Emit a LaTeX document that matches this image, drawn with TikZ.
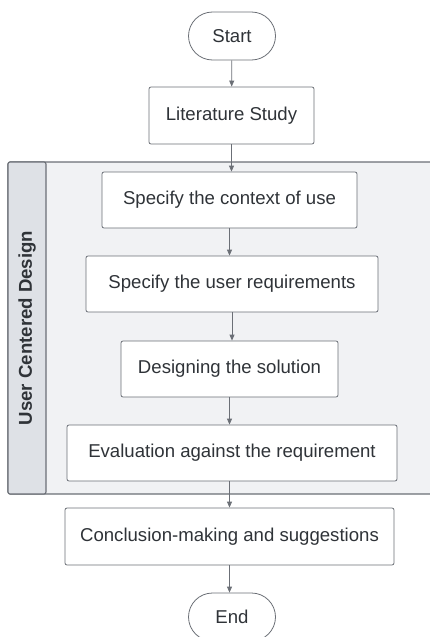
\documentclass[tikz,border=0pt]{standalone}
\usepackage{fontspec}
\setmainfont{Liberation Sans}
\usetikzlibrary{arrows.meta}
\definecolor{lanefill}{HTML}{F1F2F4}
\definecolor{bandfill}{HTML}{DEE1E6}
\definecolor{edgegray}{HTML}{6B6F76}
\definecolor{txtgray}{HTML}{2F3338}
\tikzset{
	stepbox/.style={draw=edgegray, line width=0.8pt, fill=white, rounded corners=2pt, inner sep=0pt, align=center, text=txtgray},
	termbox/.style={stepbox, rounded corners=24pt, minimum width=87pt, minimum height=48pt},
	flow/.style={draw=edgegray, line width=0.8pt, -{Triangle[width=5pt,length=6pt]}}
}
\begin{document}
\begin{tikzpicture}[x=1pt, y=-1pt, line join=round, font=\fontsize{18.6}{22}\selectfont]
	\useasboundingbox (0,0) rectangle (429,637);
	% swimlane
	\draw[draw=edgegray, fill=lanefill, line width=1.1pt, rounded corners=2pt] (8,162) rectangle (436,494);
	\draw[draw=edgegray, fill=bandfill, line width=1.1pt, rounded corners=2pt] (8,162) -- (46,162) -- (46,494) -- (8,494) -- cycle;
	\node[rotate=90, text=txtgray, font=\fontsize{18.6}{22}\selectfont\bfseries] (lane) at (27,328) {User Centered Design};
	% steps
	\node[termbox] (start) at (232,36) {Start};
	\node[stepbox, minimum width=165pt, minimum height=57pt] (lit) at (231.5,115.5) {Literature Study};
	\node[stepbox, minimum width=255pt, minimum height=56pt] (ctx) at (229.5,200) {Specify the context of use};
	\node[stepbox, minimum width=292pt, minimum height=56pt] (req) at (232,284) {Specify the user requirements};
	\node[stepbox, minimum width=217pt, minimum height=56pt] (des) at (229.5,369) {Designing the solution};
	\node[stepbox, minimum width=330pt, minimum height=56pt] (eval) at (232,453) {Evaluation against the requirement};
	\node[stepbox, minimum width=329pt, minimum height=57pt] (concl) at (229.5,536.5) {Conclusion-making and suggestions};
	\node[termbox] (end) at (232,617) {End};
	% arrows
	\draw[flow] (start) -- (lit);
	\draw[flow] (lit.south) -- (lit.south |- ctx.north);
	\draw[flow] (ctx.south) -- (ctx.south |- req.north);
	\draw[flow] (req.south) -- (req.south |- des.north);
	\draw[flow] (des.south) -- (des.south |- eval.north);
	\draw[flow] (concl.north |- eval.south) -- (concl.north);
	\draw[flow] (concl.south) -- (concl.south |- end.north);
\end{tikzpicture}
\end{document}
